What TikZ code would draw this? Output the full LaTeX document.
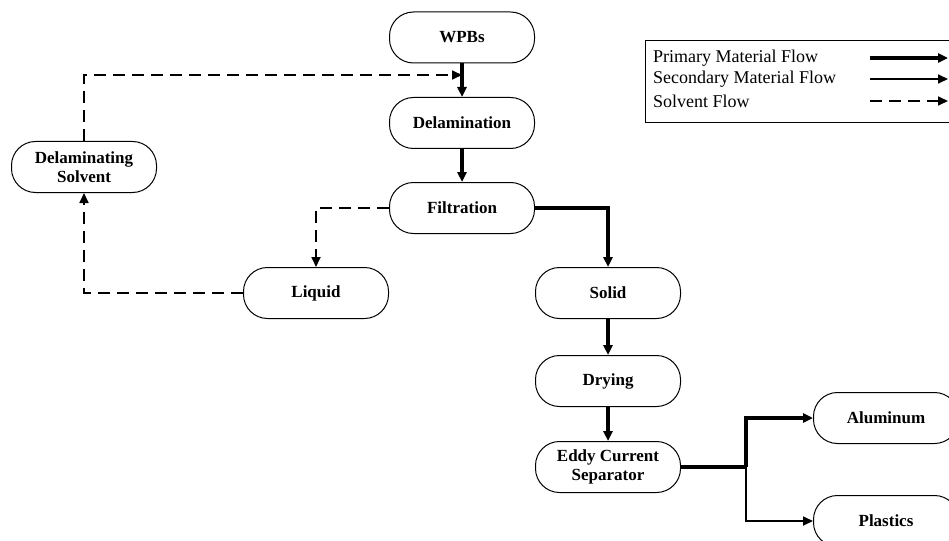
\documentclass[tikz,border=0pt]{standalone}
\usepackage{fontspec}
\setmainfont{Liberation Serif}
\usetikzlibrary{arrows.meta,shapes.misc}
\tikzset{
  x=1pt,y=-1pt,
  proc/.style={draw,line width=1pt,rounded corners=24pt,minimum width=145pt,minimum height=51pt,align=center,font=\fontsize{17}{19}\selectfont\bfseries,inner sep=2pt},
  tip/.style={-{Triangle[length=10pt,width=9pt]}},
  primary/.style={line width=3.3pt,tip},
  secondary/.style={line width=1.7pt,tip},
  solvent/.style={line width=1.7pt,dash pattern=on 12pt off 7pt,tip},
  legtxt/.style={anchor=west,font=\fontsize{18}{20}\selectfont,inner sep=0pt},
}
\begin{document}
\begin{tikzpicture}
\useasboundingbox (0,0) rectangle (949,540);
\clip (0,0) rectangle (949,540);
\fill[white] (0,0) rectangle (949,540);
\node[proc] (wpb) at (462,37.5) {WPBs};
\node[proc] (del) at (462,123) {Delamination};
\node[proc] (fil) at (462,208) {Filtration};
\node[proc] (liq) at (316,293) {Liquid};
\node[proc] (sol) at (608,293) {Solid};
\node[proc] (dry) at (608,381) {Drying};
\node[proc] (edd) at (608,467) {Eddy Current\\Separator};
\node[proc] (alu) at (886,418) {Aluminum};
\node[proc] (pla) at (886,521) {Plastics};
\node[proc] (dsv) at (84,167) {Delaminating\\Solvent};
% legend
\node[draw,line width=1pt,minimum width=315pt,minimum height=82pt,anchor=north west,inner sep=0pt] (leg) at (645,40) {};
\node[legtxt] (l1) at (653,58) {Primary Material Flow};
\node[legtxt] (l2) at (653,79) {Secondary Material Flow};
\node[legtxt] (l3) at (653,101) {Solvent Flow};
\coordinate (a1) at (870,58); \coordinate (b1) at (948,58);
\coordinate (a2) at (870,79); \coordinate (b2) at (948,79);
\coordinate (a3) at (870,101); \coordinate (b3) at (948,101);
\draw[primary] (a1) -- (b1);
\draw[secondary] (a2) -- (b2);
\draw[solvent] (a3) -- (b3);
% flows
\coordinate (jn) at (462,75);
\draw[primary] (wpb) -- (del);
\draw[solvent] (dsv.north) |- (jn);
\draw[primary] (del) -- (fil);
\draw[solvent] (fil.west) -| (liq.north);
\draw[solvent] (liq.west) -| (dsv.south);
\draw[primary] (fil.east) -| (sol.north);
\draw[primary] (sol) -- (dry);
\draw[primary] (dry) -- (edd);
\coordinate (br) at (746,467);
\draw[line width=3.3pt] (edd.east) -- (br);
\draw[primary] (br) |- (alu.west);
\draw[secondary] (br) |- (pla.west);
\end{tikzpicture}
\end{document}
